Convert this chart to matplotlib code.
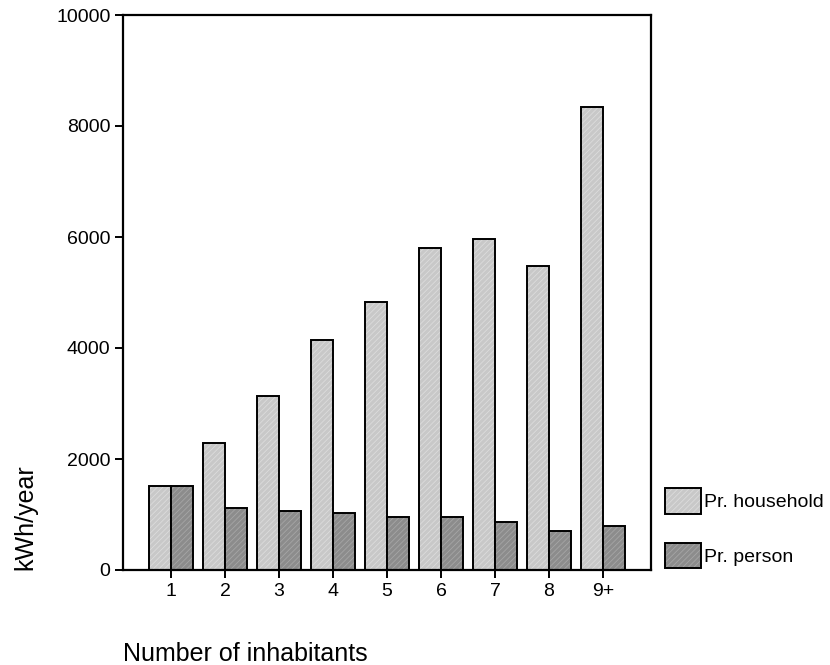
import numpy as np
import matplotlib
matplotlib.use('Agg')
import matplotlib.pyplot as plt
import matplotlib.patches as mpatches
from matplotlib.legend_handler import HandlerTuple

plt.rcParams['font.family'] = ['Liberation Sans', 'DejaVu Sans']
plt.rcParams['hatch.linewidth'] = 0.6

categories = ['1', '2', '3', '4', '5', '6', '7', '8', '9+']
per_household = [1520, 2290, 3140, 4140, 4830, 5800, 5970, 5470, 8350]
per_person = [1520, 1125, 1065, 1035, 960, 960, 870, 700, 800]
y_ticks = [0, 2000, 4000, 6000, 8000, 10000]

HH_FACE, HH_HATCH = '#c8c8c8', '#dcdcdc'
PP_FACE, PP_HATCH = '#8c8c8c', '#a6a6a6'

fig = plt.figure(figsize=(8.3, 6.65), dpi=100)
ax = fig.add_axes([123 / 830, 1 - 570 / 665, 528 / 830, 555 / 665])

x = np.arange(len(categories))
w = 0.41

def hatched_bars(pos, vals, face, hatch_col):
    ax.bar(pos, vals, w, color=face, edgecolor=hatch_col, hatch='//////', linewidth=0)
    ax.bar(pos, vals, w, fill=False, edgecolor='black', linewidth=1.4)

hatched_bars(x - w / 2, per_household, HH_FACE, HH_HATCH)
hatched_bars(x + w / 2, per_person, PP_FACE, PP_HATCH)

ax.set_xlim(-0.89, len(categories) - 1 + 0.89)
ax.set_ylim(0, 10000)
ax.set_xticks(x)
ax.set_xticklabels(categories)
ax.set_yticks(y_ticks)
ax.tick_params(axis='both', labelsize=14, width=1.4, length=6, direction='out', pad=3)
for s in ax.spines.values():
    s.set_linewidth(1.6)

fig.text(123 / 830, 1 - 661 / 665, 'Number of inhabitants', fontsize=18,
         ha='left', va='baseline')
fig.text(13 / 830, 1 - 570 / 665, 'kWh/year', fontsize=18, rotation=90,
         ha='left', va='bottom')

def legend_patch(face, hatch_col):
    fill = mpatches.Patch(facecolor=face, edgecolor=hatch_col, hatch='//////', linewidth=0)
    edge = mpatches.Patch(fill=False, edgecolor='black', linewidth=1.4)
    return (fill, edge)

handles = [legend_patch(HH_FACE, HH_HATCH), legend_patch(PP_FACE, PP_HATCH)]
fig.legend(handles=handles, labels=['Pr. household', 'Pr. person'],
           handler_map={tuple: HandlerTuple(ndivide=1, pad=0)},
           loc='upper left', bbox_to_anchor=(665 / 830, 1 - 488 / 665),
           frameon=False, fontsize=14, borderpad=0, borderaxespad=0,
           handlelength=1.85, handleheight=1.65, handletextpad=0.15,
           labelspacing=1.5)

fig.savefig('out.png', dpi=100)
